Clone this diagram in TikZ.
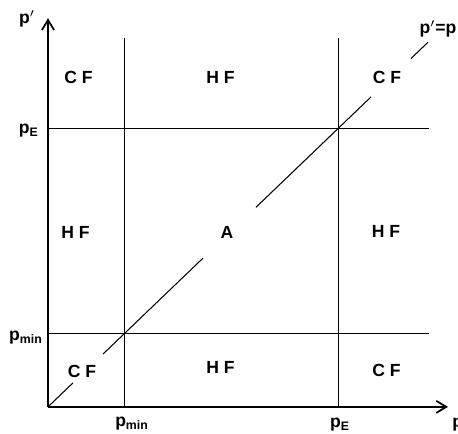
\documentclass[tikz,border=0pt]{standalone}
\usepackage{fontspec}
\setmainfont{Liberation Sans}
\usetikzlibrary{arrows.meta}

\tikzset{
  axis/.style={line width=1pt, -{Straight Barb[length=2mm,width=2.4mm]}},
  gridline/.style={line width=0.5pt},
  diag/.style={line width=0.6pt},
  region/.style={font=\fontsize{10}{12}\selectfont\bfseries, inner sep=0pt},
  ticklabel/.style={font=\fontsize{10}{12}\selectfont\bfseries, inner sep=0pt},
}

\begin{document}
\begin{tikzpicture}[x=0.02cm, y=0.0192cm]

\def\pmin{76}    % p_min
\def\pE{290}     % p_E
\def\vend{384}   % top of the vertical lines
\def\hend{381}   % right end of the horizontal lines

\useasboundingbox (-48,-28.1) rectangle (410,424);

% axes
\coordinate (O) at (0,0);
\coordinate (xend) at (400,0);
\coordinate (yend) at (0,405);
\draw[axis] (O) -- (xend);
\draw[axis] (O) -- (yend);

% lines at p_min and p_E
\foreach \v/\name in {\pmin/min, \pE/E} {
    \coordinate (vb\name) at (\v,0);
    \coordinate (vt\name) at (\v,\vend);
    \coordinate (hl\name) at (0,\v);
    \coordinate (hr\name) at (\hend,\v);
    \draw[gridline] (vb\name) -- (vt\name);
    \draw[gridline] (hl\name) -- (hr\name);
}

% diagonal p'=p, broken where the labels sit
\foreach \a/\b in {0/25, 55/155, 208/323, 363/380} {
    \coordinate (ds\a) at (\a,\a);
    \coordinate (de\a) at (\b,\b);
    \draw[diag] (ds\a) -- (de\a);
}

% axis labels
\node[ticklabel] (ylab) at (-21,404) {p$'$};
\node[ticklabel, anchor=west] (xlab) at (404,-18.5) {p};
\node[ticklabel, anchor=east] (ypmin) at (-5,\pmin-4) {p\textsubscript{min}};
\node[ticklabel, anchor=east] (ypE) at (-9,\pE-2) {p\textsubscript{E}};
\node[ticklabel] (xpmin) at (84,-17.7) {p\textsubscript{min}};
\node[ticklabel] (xpE) at (292,-18.7) {p\textsubscript{E}};
\node[ticklabel] (diaglab) at (390,394) {p$'$=p};

% regions
\foreach \x/\y/\txt/\name in {30.5/343/C F/cfTL, 172.5/343/H F/hfT, 339/343/C F/cfTR,
                              27.5/182/H F/hfL, 179/182/A/regA, 338/183/H F/hfR,
                              34/36.5/C F/cfBL, 172.5/40.6/H F/hfB, 338.5/37.5/C F/cfBR} {
    \node[region] (\name) at (\x,\y) {\txt};
}

\end{tikzpicture}
\end{document}
